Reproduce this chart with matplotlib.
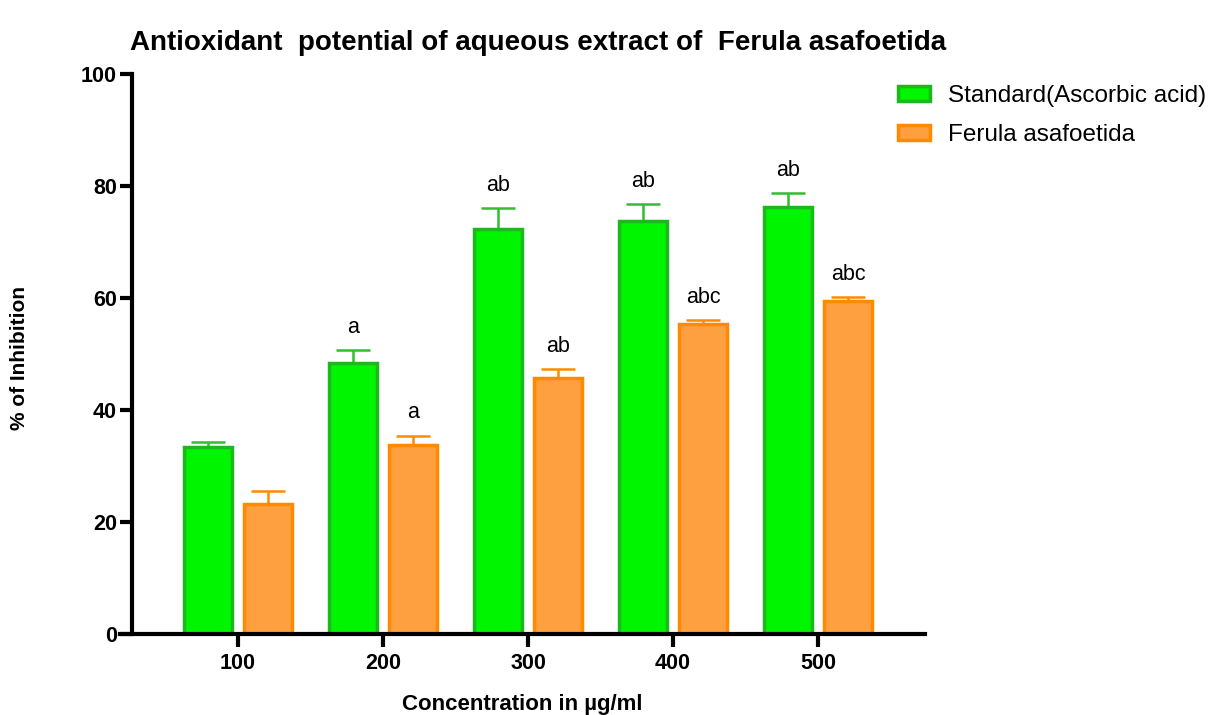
import matplotlib
matplotlib.use("Agg")
import matplotlib.pyplot as plt
import numpy as np

plt.rcParams['font.family'] = ['Liberation Sans', 'DejaVu Sans']

categories = ["100", "200", "300", "400", "500"]
standard = [33.4, 48.4, 72.4, 73.8, 76.3]
standard_err = [0.8, 2.3, 3.6, 3.0, 2.4]
ferula = [23.3, 33.8, 45.8, 55.3, 59.4]
ferula_err = [2.3, 1.6, 1.5, 0.8, 0.8]
standard_labels = ["", "a", "ab", "ab", "ab"]
ferula_labels = ["", "a", "ab", "abc", "abc"]

fig = plt.figure(figsize=(12.16, 7.15), dpi=100)
ax = fig.add_axes([120 / 1216, 1 - 634 / 715, 805 / 1216, 560 / 715])

x = np.arange(len(categories))
w = 0.331
off = 0.207
g_face, g_edge = "#00F500", "#1DB81D"
o_face, o_edge = "#FFA040", "#FF8A00"

ax.bar(x - off, standard, w, color=g_face, edgecolor=g_edge, linewidth=2.5,
       label="Standard(Ascorbic acid)", zorder=2)
ax.bar(x + off, ferula, w, color=o_face, edgecolor=o_edge, linewidth=2.5,
       label="Ferula asafoetida", zorder=2)
ax.errorbar(x - off, standard, yerr=[np.zeros(5), standard_err], fmt="none",
            ecolor="#2FBF2F", elinewidth=1.8, capsize=12, capthick=1.8, zorder=1)
ax.errorbar(x + off, ferula, yerr=[np.zeros(5), ferula_err], fmt="none",
            ecolor=o_edge, elinewidth=1.8, capsize=12, capthick=1.8, zorder=1)

for i in range(len(categories)):
    if standard_labels[i]:
        ax.text(x[i] - off, standard[i] + standard_err[i] + 2.2, standard_labels[i],
                ha="center", va="bottom", fontsize=15.5)
    if ferula_labels[i]:
        ax.text(x[i] + off, ferula[i] + ferula_err[i] + 2.2, ferula_labels[i],
                ha="center", va="bottom", fontsize=15.5)

ax.set_xlim(-0.814, 4.738)
ax.set_ylim(0, 100)
ax.set_yticks([0, 20, 40, 60, 80, 100])
ax.set_xticks(x)
ax.set_xticklabels(categories)
for s in ["top", "right"]:
    ax.spines[s].set_visible(False)
for s in ["left", "bottom"]:
    ax.spines[s].set_linewidth(3)
ax.spines["left"].set_position(("data", -0.731))
ax.tick_params(axis="both", width=3, length=9, labelsize=15.5)
ax.tick_params(axis="x", pad=5)
ax.tick_params(axis="y", pad=2)
for lab in ax.get_xticklabels() + ax.get_yticklabels():
    lab.set_fontweight("bold")

ax.set_xlabel("Concentration in µg/ml", fontsize=16, fontweight="bold", labelpad=14)
fig.text(0.016, 0.5, "% of Inhibition", rotation=90, fontsize=15,
         fontweight="bold", ha="center", va="center")
fig.text(0.107, 0.922, "Antioxidant  potential of aqueous extract of  Ferula asafoetida",
         fontsize=20, fontweight="bold", ha="left", va="bottom")

handles, labels = ax.get_legend_handles_labels()
fig.legend(handles, labels, loc="upper left", bbox_to_anchor=(898 / 1216, 1 - 85 / 715),
           frameon=False, fontsize=17.5, handlelength=1.32, handleheight=0.62,
           labelspacing=0.7, borderpad=0, borderaxespad=0, handletextpad=0.74)

fig.savefig("out.png", dpi=100)
